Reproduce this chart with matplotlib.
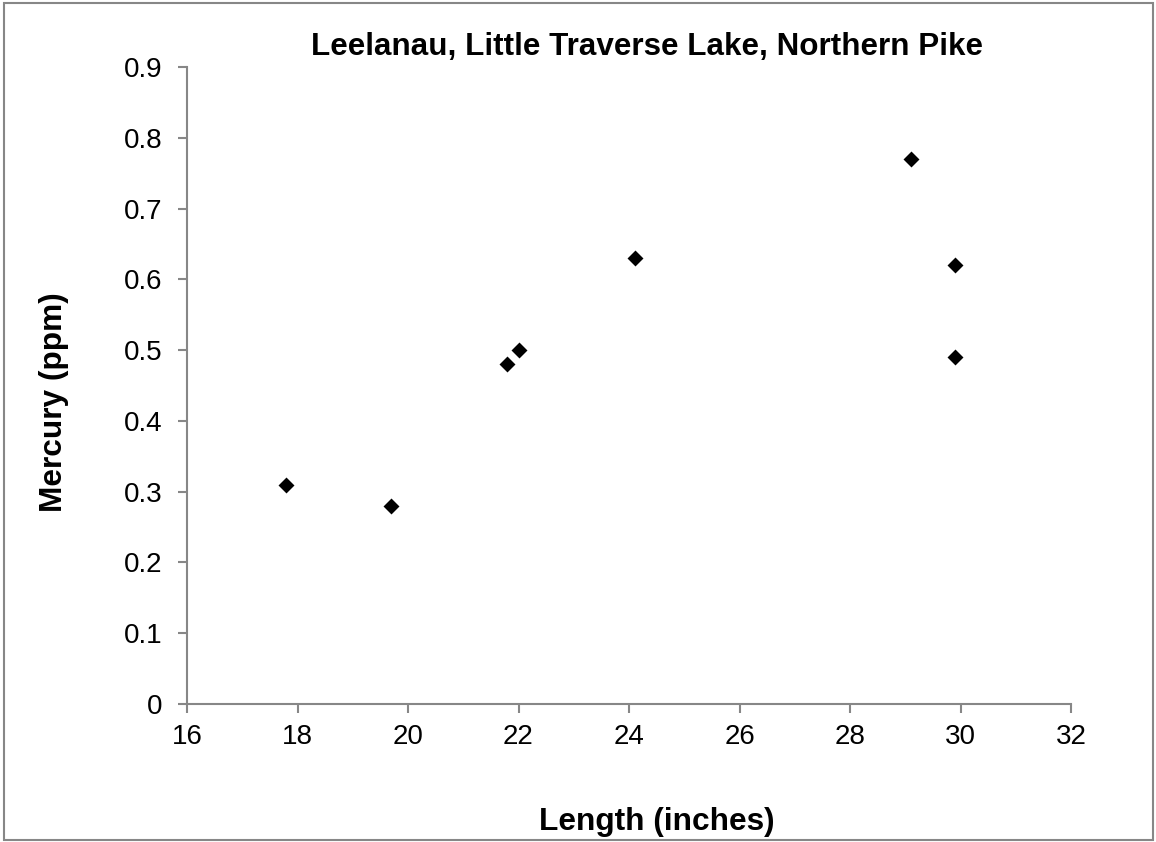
import matplotlib
matplotlib.use('Agg')
import matplotlib.pyplot as plt
from matplotlib.patches import Rectangle

# Length (inches) vs Mercury (ppm)
length = [17.8, 19.7, 21.8, 22.0, 24.1, 29.1, 29.9, 29.9]
mercury = [0.31, 0.28, 0.48, 0.50, 0.63, 0.77, 0.62, 0.49]

x_ticks = [16, 18, 20, 22, 24, 26, 28, 30, 32]
y_ticks = [0, 0.1, 0.2, 0.3, 0.4, 0.5, 0.6, 0.7, 0.8, 0.9]
y_labels = ['0', '0.1', '0.2', '0.3', '0.4', '0.5', '0.6', '0.7', '0.8', '0.9']

plt.rcParams['font.family'] = ['Liberation Sans', 'DejaVu Sans']

W, H = 1156, 842
fig = plt.figure(figsize=(W / 100, H / 100), dpi=100)
ax = fig.add_axes([187 / W, (H - 704) / H, 884 / W, 637 / H])

ax.scatter(length, mercury, marker='D', s=66, color='black', linewidths=0, zorder=3)

ax.set_xlim(16, 32)
ax.set_ylim(0, 0.9)
ax.set_xticks(x_ticks)
ax.set_yticks(y_ticks)
ax.set_yticklabels(y_labels)

gray = '#878787'
for side in ['top', 'right']:
    ax.spines[side].set_visible(False)
for side in ['left', 'bottom']:
    ax.spines[side].set_color(gray)
    ax.spines[side].set_linewidth(1.5)
ax.tick_params(direction='out', length=6.5, width=1.5, color=gray, labelsize=20)
ax.tick_params(axis='x', pad=8)
ax.tick_params(axis='y', pad=11)

fig.text(647 / W, 1 - 55 / H, 'Leelanau, Little Traverse Lake, Northern Pike',
         ha='center', va='baseline', fontsize=22.6, fontweight='bold')
fig.text(657 / W, 1 - 830 / H, 'Length (inches)', ha='center', va='baseline',
         fontsize=22.8, fontweight='bold')
fig.text(62 / W, 1 - 402 / H, 'Mercury (ppm)', ha='center', va='baseline',
         rotation=90, rotation_mode='anchor', fontsize=22.8, fontweight='bold')

# chart border
fig.patches.append(Rectangle((3.5 / W, 2.5 / H), 1149 / W, 836.5 / H,
                             transform=fig.transFigure, fill=False,
                             edgecolor=gray, linewidth=1.5))

fig.savefig('out.png', dpi=100)
